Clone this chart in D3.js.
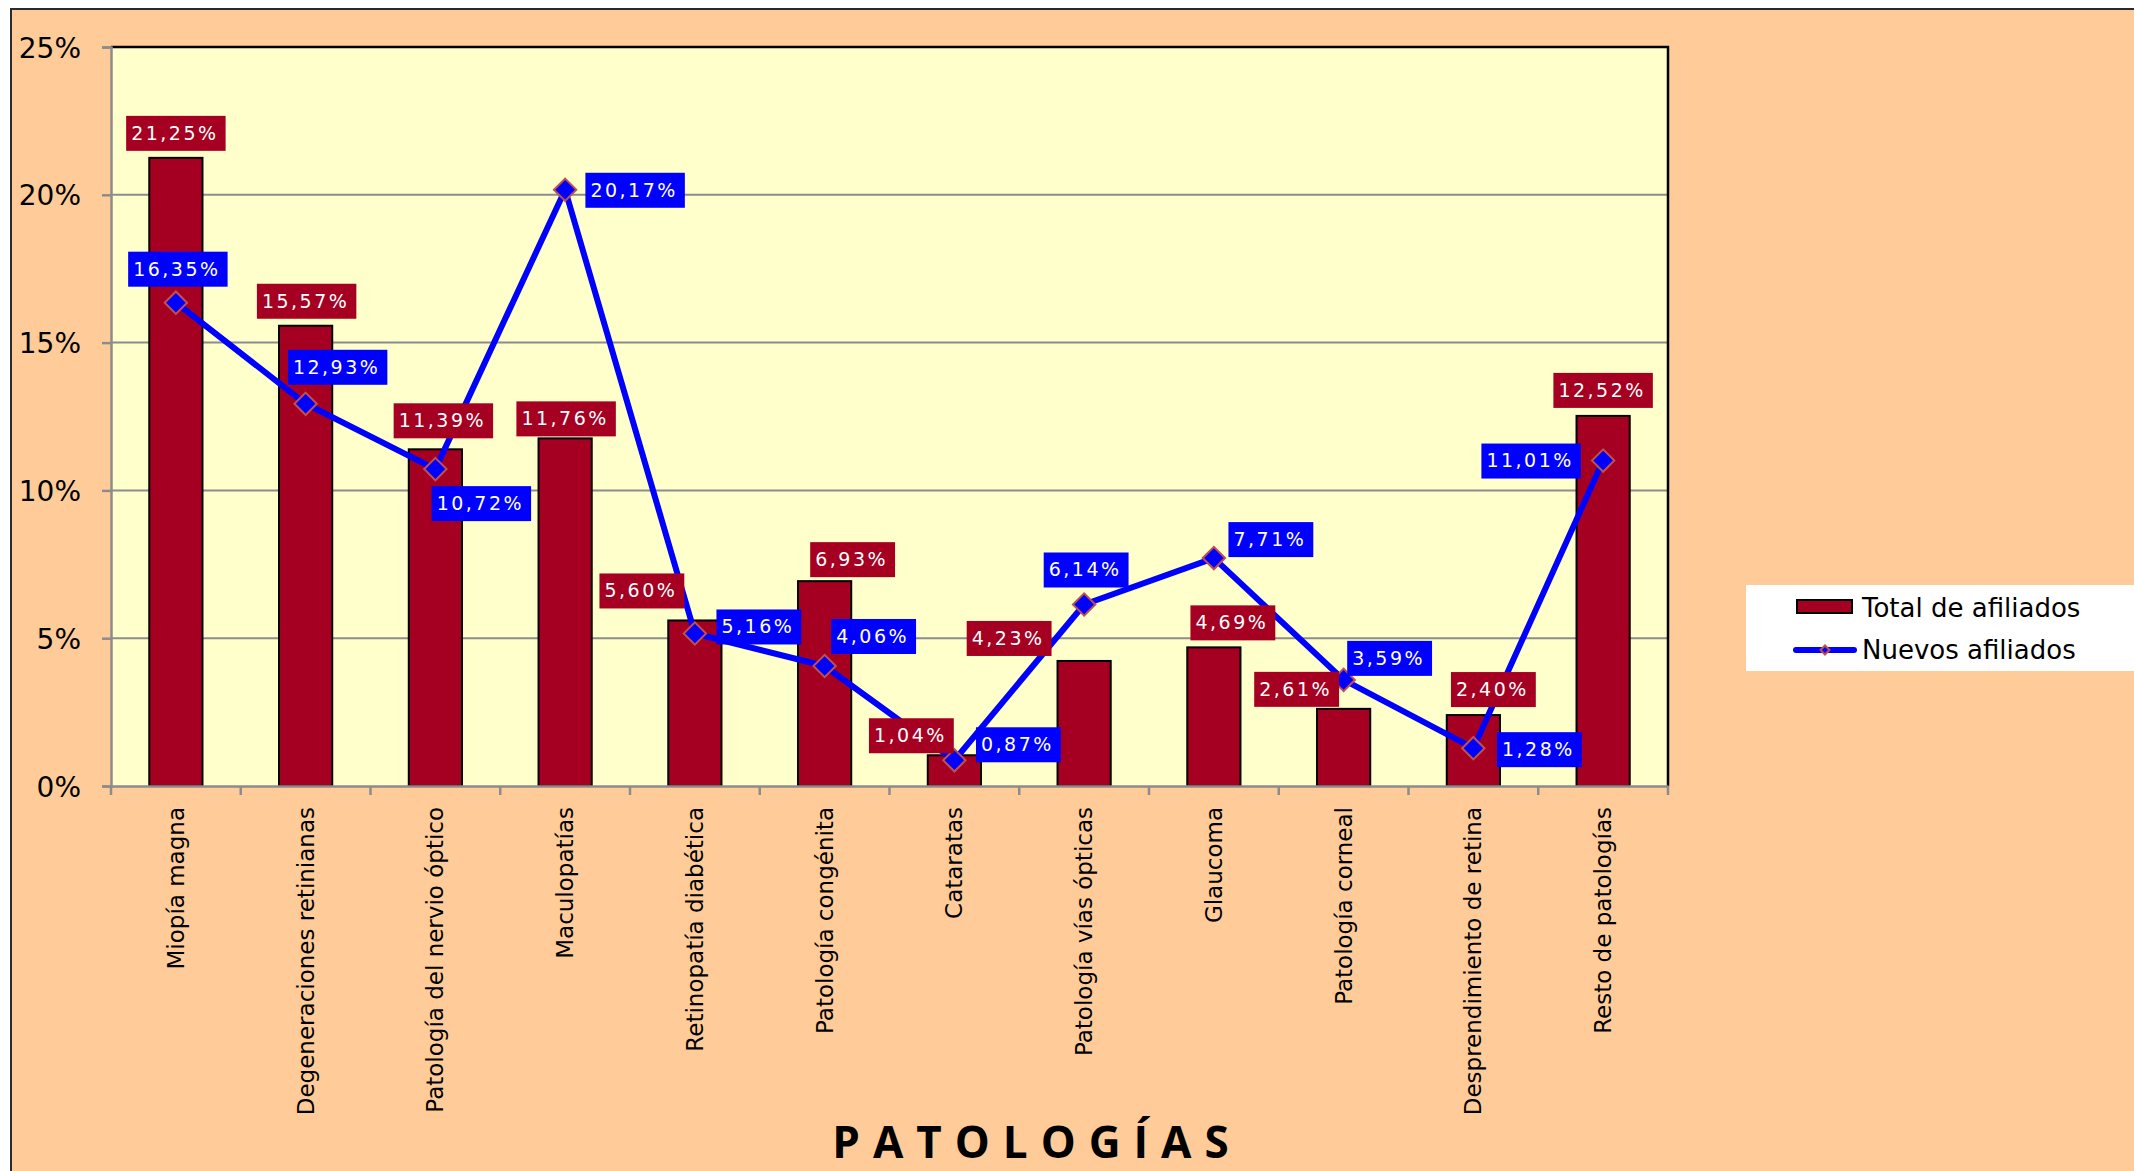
<!DOCTYPE html>
<html>
<head>
<meta charset="utf-8">
<script src="https://cdn.jsdelivr.net/npm/d3@7"></script>
<style>
  html, body { margin: 0; padding: 0; background: #fff; }
  svg { display: block; }
</style>
</head>
<body>
<svg id="chart" width="2134" height="1171"></svg>
<script>
// categories and series (percent)
const categories = [
  "Miopía magna", "Degeneraciones retinianas", "Patología del nervio óptico",
  "Maculopatías", "Retinopatía diabética", "Patología congénita", "Cataratas",
  "Patología vías ópticas", "Glaucoma", "Patología corneal",
  "Desprendimiento de retina", "Resto de patologías"
];
const totalAfiliados = [21.25, 15.57, 11.39, 11.76, 5.60, 6.93, 1.04, 4.23, 4.69, 2.61, 2.40, 12.52];
const nuevosAfiliados = [16.35, 12.93, 10.72, 20.17, 5.16, 4.06, 0.87, 6.14, 7.71, 3.59, 1.28, 11.01];
const yTicks = [0, 5, 10, 15, 20, 25];
const seriesNames = ["Total de afiliados", "Nuevos afiliados"];

// label nudges (px) copied from the hand-placed labels in the original
const barLabelNudge = [[-1,-25],[0,-25],[7,-29],[0,-20],[-54,-30],[27,-22],[-44,-20],[-76,-23],[18,-25],[-48,-20],[19,-26],[-1,-26]];
const lineLabelNudge = [[1,-34],[31,-37],[45,34],[69,0],[63,-7],[48,-30],[63,-16],[1,-35],[56,-19],[45,-22],[65,1],[-73,0]];

const W = 2134, H = 1171;
const plot = { left: 111, right: 1668, top: 47, bottom: 786 };
const fmt = v => v.toFixed(2).replace(".", ",") + "%";

const svg = d3.select("#chart");

// outer chart area
svg.append("rect").attr("x", 11).attr("y", 9).attr("width", W).attr("height", H)
  .attr("fill", "#FFCC99").attr("stroke", "#2b2b2b").attr("stroke-width", 2);

svg.append("rect")
  .attr("x", plot.left).attr("y", plot.top)
  .attr("width", plot.right - plot.left).attr("height", plot.bottom - plot.top)
  .attr("fill", "#FFFFCC");

const x = d3.scaleBand().domain(categories).range([plot.left, plot.right]);
const y = d3.scaleLinear().domain([0, 25]).range([plot.bottom, plot.top]);
const barW = x.bandwidth() * 0.41;
const cx = d => x(d) + x.bandwidth() / 2;

// gridlines
svg.append("g").selectAll("line").data(yTicks.slice(1, -1)).join("line")
  .attr("x1", plot.left).attr("x2", plot.right)
  .attr("y1", d => y(d)).attr("y2", d => y(d))
  .attr("stroke", "#8c8c8c").attr("stroke-width", 2);

// top and right frame
svg.append("path")
  .attr("d", `M${plot.left},${plot.top}H${plot.right}V${plot.bottom}`)
  .attr("fill", "none").attr("stroke", "#000").attr("stroke-width", 2.5);

// bars
svg.append("g").selectAll("rect").data(categories).join("rect")
  .attr("x", d => cx(d) - barW / 2)
  .attr("y", (d, i) => y(totalAfiliados[i]))
  .attr("width", barW)
  .attr("height", (d, i) => plot.bottom - y(totalAfiliados[i]))
  .attr("fill", "#A50021").attr("stroke", "#000").attr("stroke-width", 2);

// y axis
const yAxis = svg.append("g").attr("transform", `translate(${plot.left},0)`)
  .call(d3.axisLeft(y).tickValues(yTicks).tickSize(9).tickFormat(d => d + "%"));
yAxis.select(".domain").attr("stroke", "#8c8c8c").attr("stroke-width", 2.5);
yAxis.selectAll(".tick line").attr("stroke", "#8c8c8c").attr("stroke-width", 2.5);
yAxis.selectAll(".tick text").attr("x", -30).attr("dy", "0.36em")
  .attr("font-family", "DejaVu Sans, Verdana, sans-serif").attr("font-size", 28).attr("fill", "#000");

// x axis
const xAxis = svg.append("g").attr("transform", `translate(0,${plot.bottom})`)
  .call(d3.axisBottom(x).tickSize(0).tickFormat(""));
xAxis.select(".domain").attr("stroke", "#8c8c8c").attr("stroke-width", 2.5);
svg.append("g").selectAll("line").data(d3.range(categories.length + 1)).join("line")
  .attr("x1", i => plot.left + i * x.step()).attr("x2", i => plot.left + i * x.step())
  .attr("y1", plot.bottom).attr("y2", plot.bottom + 9)
  .attr("stroke", "#8c8c8c").attr("stroke-width", 2.5);

svg.append("g").selectAll("text").data(categories).join("text")
  .attr("transform", d => `translate(${cx(d) + 8},${plot.bottom + 21}) rotate(-90)`)
  .attr("text-anchor", "end")
  .attr("font-family", "DejaVu Sans, Verdana, sans-serif").attr("font-size", 23)
  .attr("fill", "#000").text(d => d);

// line series
const pts = categories.map((c, i) => [cx(c), y(nuevosAfiliados[i])]);
svg.append("path").datum(pts)
  .attr("d", d3.line())
  .attr("fill", "none").attr("stroke", "#0000FF").attr("stroke-width", 6)
  .attr("stroke-linejoin", "round");

const diamond = d3.symbol().type(d3.symbolSquare).size(250);
svg.append("g").selectAll("path").data(pts).join("path")
  .attr("d", diamond)
  .attr("transform", d => `translate(${d[0]},${d[1]}) rotate(45)`)
  .attr("fill", "#0000FF").attr("stroke", "#C0504D").attr("stroke-width", 2);

// data labels
function drawLabel(g, cxp, cyp, text, fill) {
  const lg = g.append("g");
  const t = lg.append("text")
    .attr("x", cxp).attr("y", cyp).attr("dy", "0.36em")
    .attr("text-anchor", "middle")
    .attr("font-family", "DejaVu Sans, Verdana, sans-serif").attr("font-size", 19)
    .attr("letter-spacing", 2.5)
    .attr("fill", "#fff").text(text);
  const w = t.node().getComputedTextLength() + 12;
  lg.insert("rect", "text")
    .attr("x", cxp - w / 2 + 1).attr("y", cyp - 17).attr("width", w).attr("height", 35)
    .attr("fill", fill);
}

const labels = svg.append("g");
categories.forEach((c, i) => {
  const [dx, dy] = barLabelNudge[i];
  drawLabel(labels, cx(c) + dx, y(totalAfiliados[i]) + dy, fmt(totalAfiliados[i]), "#A50021");
});
categories.forEach((c, i) => {
  const [dx, dy] = lineLabelNudge[i];
  drawLabel(labels, pts[i][0] + dx, pts[i][1] + dy, fmt(nuevosAfiliados[i]), "#0000FF");
});

// legend
const lg = svg.append("g");
lg.append("rect").attr("x", 1746).attr("y", 585).attr("width", 400).attr("height", 86).attr("fill", "#fff");
lg.append("rect").attr("x", 1797).attr("y", 600).attr("width", 55).attr("height", 13)
  .attr("fill", "#A50021").attr("stroke", "#000").attr("stroke-width", 2);
lg.append("line").attr("x1", 1796).attr("x2", 1854).attr("y1", 650).attr("y2", 650)
  .attr("stroke", "#0000FF").attr("stroke-width", 6).attr("stroke-linecap", "round");
lg.append("path").attr("d", d3.symbol().type(d3.symbolSquare).size(40))
  .attr("transform", "translate(1825,650) rotate(45)")
  .attr("fill", "#0000FF").attr("stroke", "#C0504D").attr("stroke-width", 2);
lg.selectAll("text").data(seriesNames).join("text")
  .attr("x", 1862).attr("y", (d, i) => 617 + i * 42)
  .attr("font-family", "DejaVu Sans, Verdana, sans-serif").attr("font-size", 26)
  .attr("fill", "#000").text(d => d);

// axis title
svg.append("text")
  .attr("x", 1037).attr("y", 1158)
  .attr("text-anchor", "middle")
  .attr("font-family", "Open Sans, Lato, sans-serif").attr("font-weight", "bold")
  .attr("font-size", 44).attr("letter-spacing", 13)
  .attr("fill", "#000").text("PATOLOGÍAS");
</script>
</body>
</html>
